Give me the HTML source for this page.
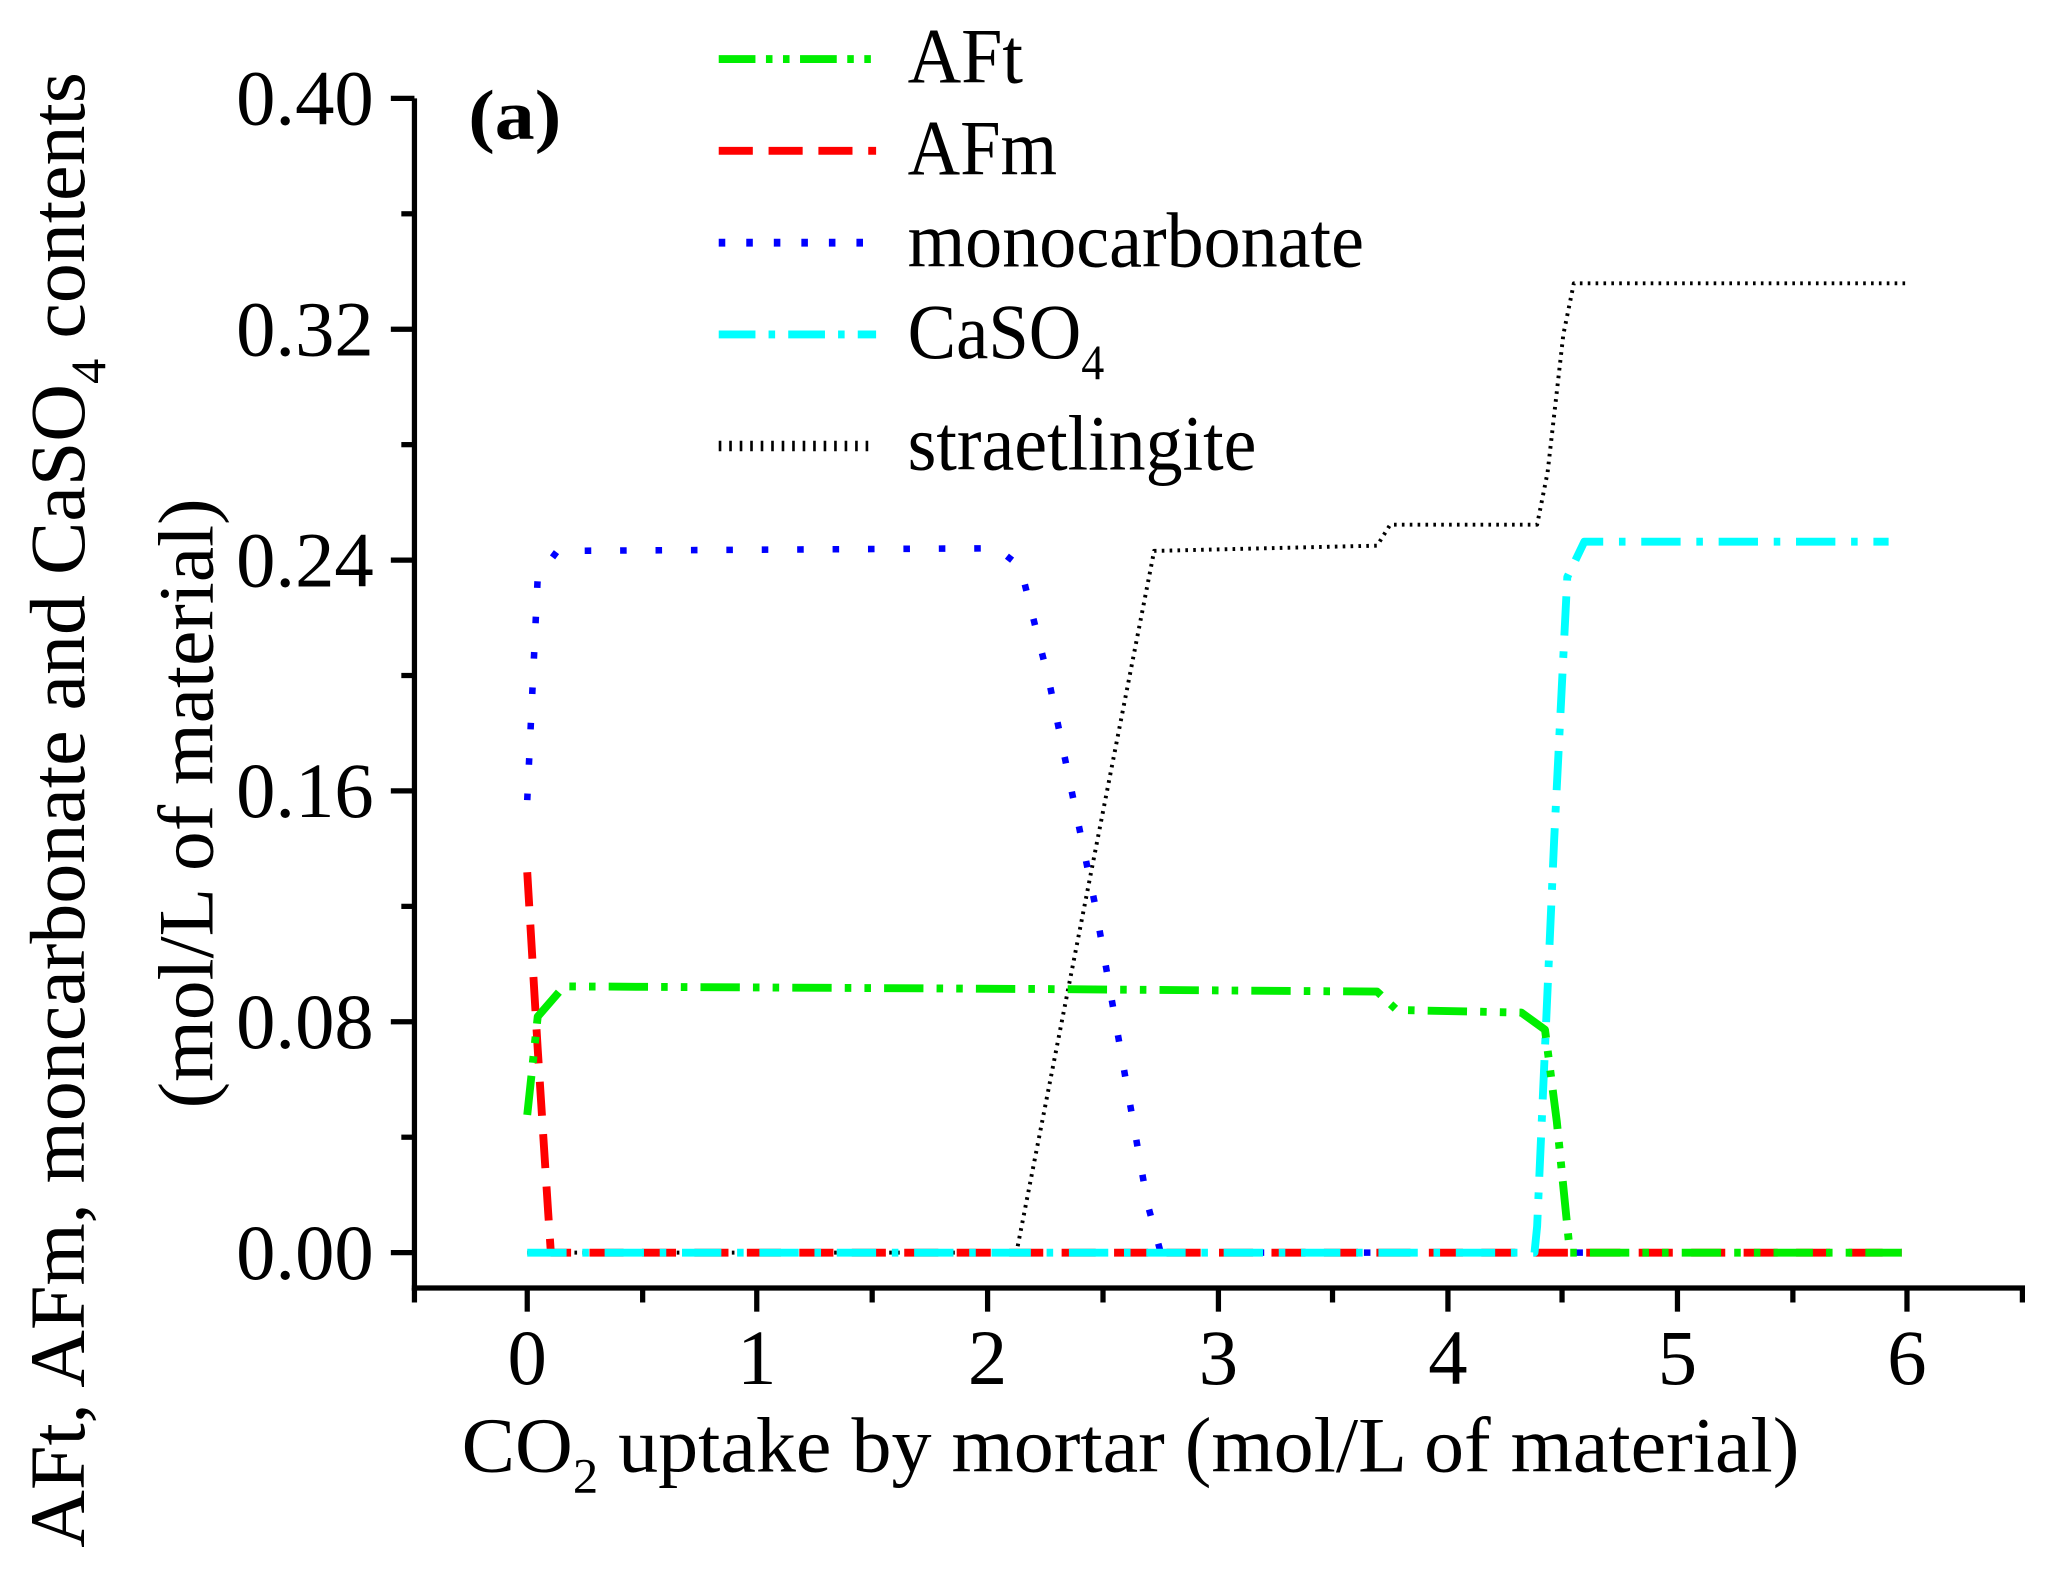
<!DOCTYPE html>
<html><head><meta charset="utf-8"><style>
html,body{margin:0;padding:0;background:#fff}
svg{display:block}
text{font-family:"Liberation Serif",serif;fill:#000}
</style></head><body>
<svg width="2046" height="1574" viewBox="0 0 1560 1200" preserveAspectRatio="none" xmlns="http://www.w3.org/2000/svg">
<g stroke="#000" stroke-width="4" fill="none">
<line x1="316" y1="75" x2="316" y2="984"/>
<line x1="314" y1="982" x2="1544" y2="982"/>
<line x1="316" y1="982" x2="316" y2="993"/>
<line x1="402" y1="982" x2="402" y2="1000"/><line x1="490" y1="982" x2="490" y2="993"/>
<line x1="577" y1="982" x2="577" y2="1000"/><line x1="665" y1="982" x2="665" y2="993"/>
<line x1="753" y1="982" x2="753" y2="1000"/><line x1="841" y1="982" x2="841" y2="993"/>
<line x1="929" y1="982" x2="929" y2="1000"/><line x1="1016" y1="982" x2="1016" y2="993"/>
<line x1="1104" y1="982" x2="1104" y2="1000"/><line x1="1191" y1="982" x2="1191" y2="993"/>
<line x1="1279" y1="982" x2="1279" y2="1000"/><line x1="1367" y1="982" x2="1367" y2="993"/>
<line x1="1454" y1="982" x2="1454" y2="1000"/><line x1="1542" y1="982" x2="1542" y2="993"/>
<line x1="298" y1="955" x2="316" y2="955"/><line x1="306" y1="867" x2="316" y2="867"/>
<line x1="298" y1="779" x2="316" y2="779"/><line x1="306" y1="691" x2="316" y2="691"/>
<line x1="298" y1="603" x2="316" y2="603"/><line x1="306" y1="515" x2="316" y2="515"/>
<line x1="298" y1="427" x2="316" y2="427"/><line x1="306" y1="339" x2="316" y2="339"/>
<line x1="298" y1="251" x2="316" y2="251"/><line x1="306" y1="163" x2="316" y2="163"/>
<line x1="298" y1="75" x2="316" y2="75"/>
</g>
<g font-size="60">
<text x="180" y="975" textLength="105" lengthAdjust="spacingAndGlyphs">0.00</text>
<text x="180" y="799" textLength="105" lengthAdjust="spacingAndGlyphs">0.08</text>
<text x="180" y="623" textLength="105" lengthAdjust="spacingAndGlyphs">0.16</text>
<text x="180" y="447" textLength="105" lengthAdjust="spacingAndGlyphs">0.24</text>
<text x="180" y="271" textLength="105" lengthAdjust="spacingAndGlyphs">0.32</text>
<text x="180" y="95" textLength="105" lengthAdjust="spacingAndGlyphs">0.40</text>
</g>
<g font-size="60" text-anchor="middle">
<text x="402" y="1055">0</text><text x="577" y="1055">1</text><text x="753" y="1055">2</text>
<text x="929" y="1055">3</text><text x="1104" y="1055">4</text><text x="1279" y="1055">5</text><text x="1454" y="1055">6</text>
</g>
<text x="352" y="1122" font-size="60" textLength="1020" lengthAdjust="spacingAndGlyphs">CO<tspan font-size="38" dy="16">2</tspan><tspan dy="-16"> uptake by mortar (mol/L of material)</tspan></text>
<text transform="translate(64,1180) rotate(-90)" font-size="60" textLength="1125" lengthAdjust="spacingAndGlyphs">AFt, AFm, moncarbonate and CaSO<tspan font-size="38" dy="16">4</tspan><tspan dy="-16"> contents</tspan></text>
<text transform="translate(162,845) rotate(-90)" font-size="60" textLength="465" lengthAdjust="spacingAndGlyphs">(mol/L of material)</text>
<text x="357" y="106" font-size="54" font-weight="bold" textLength="71" lengthAdjust="spacingAndGlyphs">(a)</text>
<!-- legend -->
<g stroke-width="6" fill="none">
<line x1="548" y1="45" x2="668" y2="45" stroke="#00ee00" stroke-dasharray="28,8,5,8,5,8"/>
<line x1="548" y1="115" x2="668" y2="115" stroke="#ff0000" stroke-dasharray="26,12"/>
<line x1="548" y1="185" x2="668" y2="185" stroke="#0000ff" stroke-dasharray="5,16"/>
<line x1="548" y1="255" x2="668" y2="255" stroke="#00ffff" stroke-dasharray="28,10,5,10"/>
<line x1="548" y1="340" x2="668" y2="340" stroke="#000" stroke-width="8" stroke-dasharray="2,6"/>
</g>
<g font-size="60">
<text x="692" y="63" textLength="88" lengthAdjust="spacingAndGlyphs">AFt</text>
<text x="692" y="133" textLength="114" lengthAdjust="spacingAndGlyphs">AFm</text>
<text x="692" y="203" textLength="348" lengthAdjust="spacingAndGlyphs">monocarbonate</text>
<text x="692" y="273" textLength="150" lengthAdjust="spacingAndGlyphs">CaSO<tspan font-size="38" dy="16">4</tspan></text>
<text x="692" y="358" textLength="266" lengthAdjust="spacingAndGlyphs">straetlingite</text>
</g>
<!-- series -->
<g fill="none" stroke-linejoin="round">
<polyline stroke="#000" stroke-width="3" stroke-dasharray="2,4" points="402,955 775,955 880,420 1050,416 1060,400 1172,400 1180,360 1192,255 1200,216 1455,216"/>
<polyline stroke="#0000ff" stroke-width="5" stroke-dasharray="5,22" points="402,610 410,440 425,420 760,418 778,432 800,520 835,690 875,918 885,955 1450,955"/>
<polyline stroke="#ff0000" stroke-width="6" stroke-dasharray="26,14" points="402,665 410,800 418,925 420,955 1450,955"/>
<polyline stroke="#00ffff" stroke-width="6" stroke-dasharray="30,12,5,12" points="402,955 1170,955 1172,935 1185,640 1195,440 1208,413 1440,413"/>
<polyline stroke="#00ee00" stroke-width="6" stroke-dasharray="30,10,5,10,5,10" points="402,850 410,775 430,752 790,754 1050,756 1065,770 1160,772 1178,785 1187,855 1197,955 1450,955"/>
</g>
</svg>
</body></html>
